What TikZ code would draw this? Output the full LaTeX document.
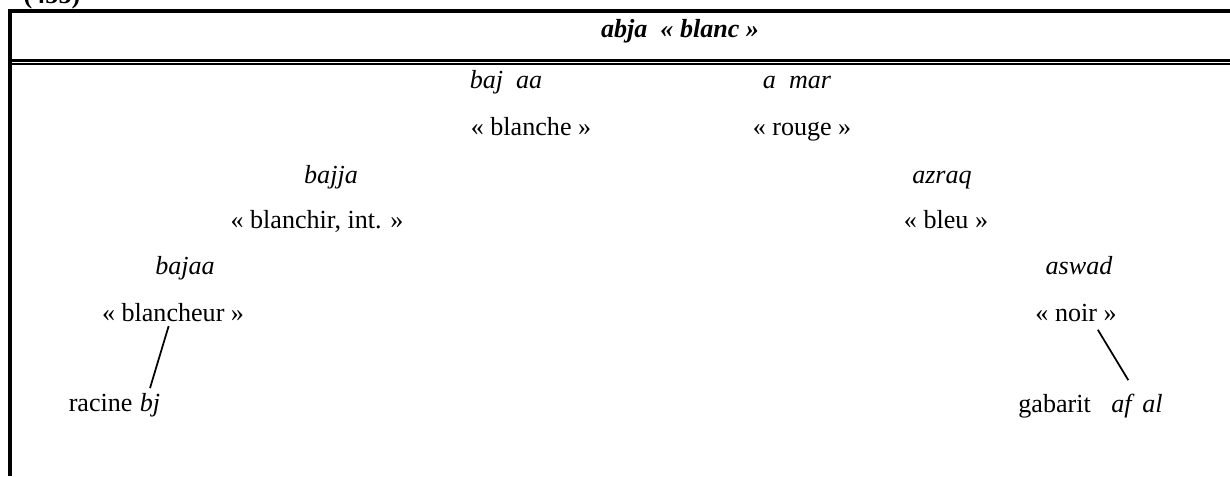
\documentclass[tikz,border=0pt]{standalone}
\usepackage{fontspec}
\setmainfont{Liberation Serif}
\usetikzlibrary{positioning}

\begin{document}
\begin{tikzpicture}[
        x=0.46pt, y=-0.46pt,
        word/.style={anchor=base, inner sep=2pt, font=\fontsize{12}{14}\selectfont\itshape},
        gloss/.style={anchor=base, inner sep=2pt, font=\fontsize{12}{14}\selectfont},
        link/.style={line width=0.8pt}
    ]
    \useasboundingbox (0,0) rectangle (1230,476);
    % frame
    \draw[line width=1.7pt] (10,476) -- (10,10.8) -- (1230,10.8);
    \draw[line width=1.2pt] (12,60.3) -- (1230,60.3);
    \draw[line width=1pt] (12,64) -- (1230,64);
    \node [gloss, font=\fontsize{12}{14}\selectfont\bfseries] (exnum) at (52,3) {(455)};
    \node [word, font=\fontsize{12}{14}\selectfont\bfseries\itshape] (abjad) at (680,37) {abja\ \ « blanc »};
    % derived forms
    \node [word]  (bajdaa)    at (506,88)  {baj\ \ aa};
    \node [gloss] (blanche)   at (531,135) {« blanche »};
    \node [word]  (ahmar)     at (797,88)  {a\ \ mar};
    \node [gloss] (rouge)     at (802,135) {« rouge »};
    \node [word]  (bajja)     at (331,183) {bajja};
    \node [gloss] (blanchir)  at (317,228) {« blanchir, int. »};
    \node [word]  (azraq)     at (942,183) {azraq};
    \node [gloss] (bleu)      at (946,228) {« bleu »};
    \node [word]  (bajaa)     at (185,274) {bajaa};
    \node [gloss] (blancheur) at (173,321) {« blancheur »};
    \node [word]  (aswad)     at (1079,274) {aswad};
    \node [gloss] (noir)      at (1076,321) {« noir »};
    % root and pattern
    \node [word]  (bj)        at (150,411) {bj};
    \node [gloss, base left=-1pt of bj] (racine) {racine};
    \node [word]  (afal)      at (1137,412) {af\hspace{5pt}al};
    \node [gloss, base left=5pt of afal] (gabarit) {gabarit};
    \draw[link] ([xshift=-2pt]blancheur.south) -- (bj.north);
    \draw[link, shorten <=2pt] ([xshift=9pt]noir.south) -- ([xshift=-4pt, yshift=4pt]afal.north);
  \end{tikzpicture}
\end{document}
